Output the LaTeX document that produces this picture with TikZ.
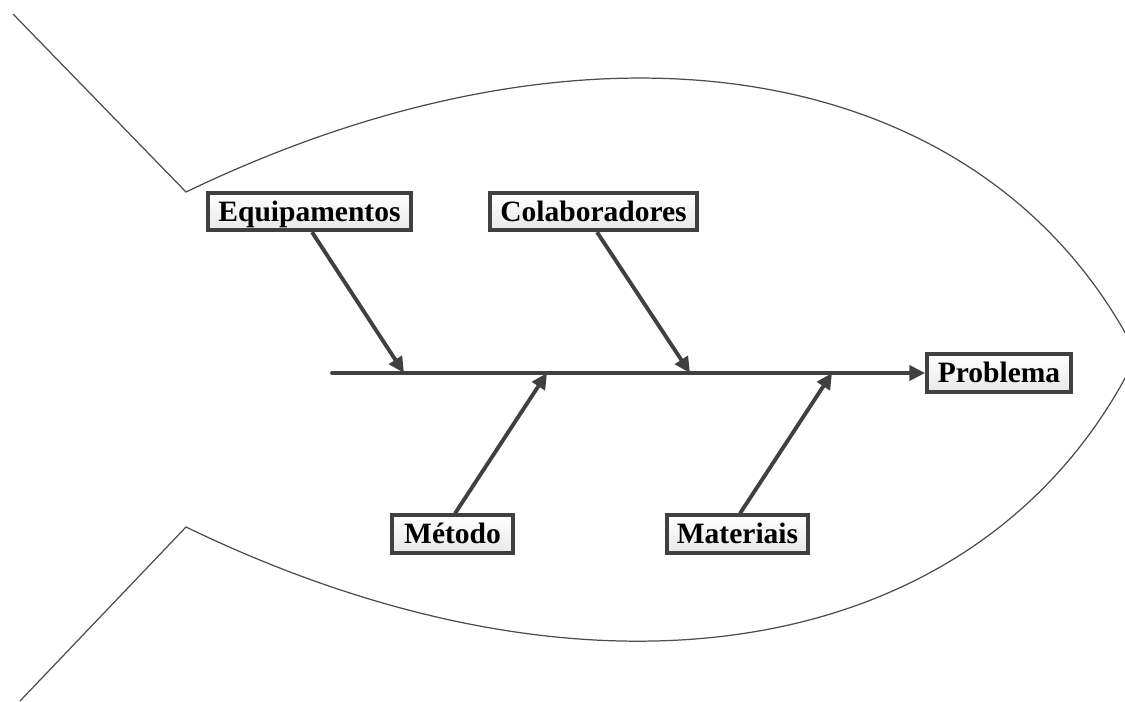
\documentclass[tikz,border=0pt]{standalone}
\usepackage{fontspec}
\setmainfont{Liberation Serif}
\usetikzlibrary{arrows.meta,shadows}
\begin{document}
\begin{tikzpicture}[x=0.02cm,y=-0.02cm,
  outline/.style={draw=black!70, line width=0.7pt, line join=miter},
  cause/.style={draw=black!75, line width=2.1pt, top color=white, bottom color=black!9,
    font=\fontsize{16.8}{20}\selectfont\bfseries, inner sep=0pt, minimum height=0.75cm,
    text height=11pt, text depth=0pt,
    drop shadow={opacity=0.25, shadow xshift=1.2pt, shadow yshift=-1.2pt}},
  bone/.style={draw=black!75, line width=2.2pt, -{Triangle[length=9pt,width=8.5pt]}},
  spine/.style={draw=black!75, line width=2.2pt, line cap=round, -{Triangle[length=9pt,width=8.5pt]}}]
\useasboundingbox (0,0) rectangle (1125,701);
\clip (0,0) rectangle (1125,701);

% fish outline: tail and body
\draw[outline] (13,14) -- (186,192) .. controls (606,-10) and (991,64) .. (1137,355);
\draw[outline] (20,701) -- (186,527) .. controls (606,730) and (991,656) .. (1137,355);

% cause boxes and effect box
\node[cause, minimum width=4.06cm] (eq)  at (309.5,211.5) {Equipamentos};
\node[cause, minimum width=4.14cm] (col) at (593.5,211.5) {Colaboradores};
\node[cause, minimum width=2.88cm] (prob) at (999,373) {Problema};
\node[cause, minimum width=2.42cm] (met) at (452.5,534) {Método};
\node[cause, minimum width=2.82cm] (mat) at (737.5,534) {Materiais};

% points on the spine
\coordinate (s0) at (332,373);
\coordinate (e1) at (404,373);
\coordinate (e2) at (547,373);
\coordinate (e3) at (690,373);
\coordinate (e4) at (832,373);

% spine and bones
\draw[spine] (s0) -- (prob.west);
\draw[bone] ([xshift=0.05cm]eq.south) -- (e1);
\draw[bone] ([xshift=0.07cm]col.south) -- (e3);
\draw[bone] ([xshift=0.05cm]met.north) -- (e2);
\draw[bone] ([xshift=0.05cm]mat.north) -- (e4);
\end{tikzpicture}
\end{document}
